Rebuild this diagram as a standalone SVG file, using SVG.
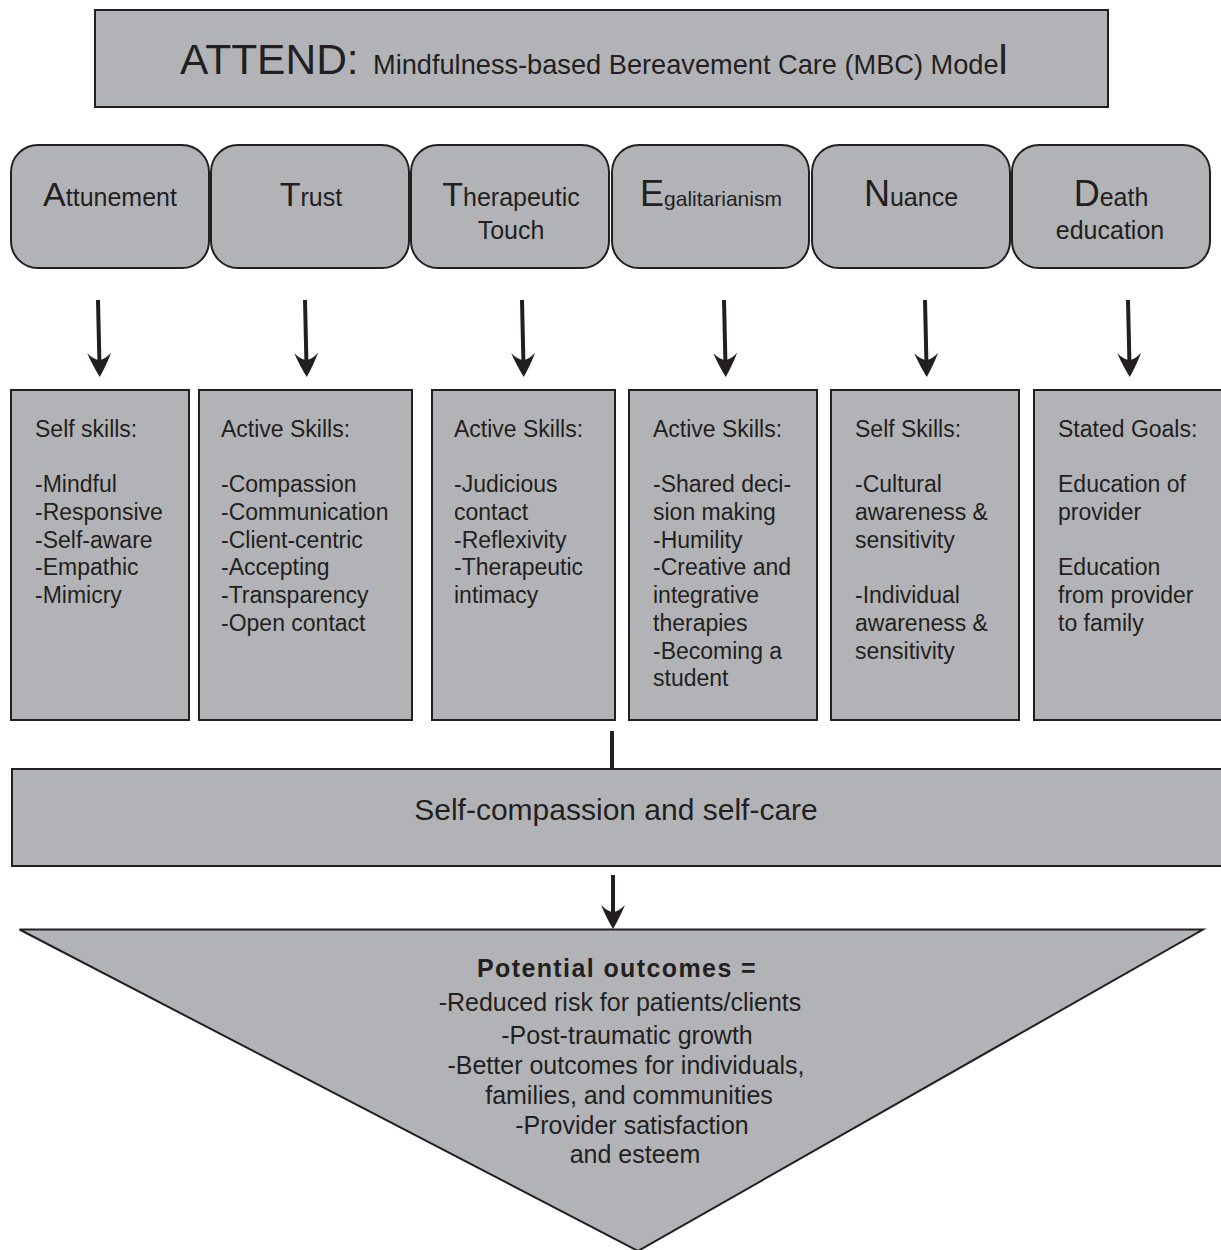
<svg xmlns="http://www.w3.org/2000/svg" width="1221" height="1250" viewBox="0 0 1221 1250">
<style>
.box{fill:#b2b3b6;stroke:#231f20;stroke-width:2}
text{font-family:"Liberation Sans",Arial,Helvetica,sans-serif;fill:#231f20}
.h{font-size:25px;text-anchor:middle}
.big{font-size:34px}
.big2{font-size:36px}
.sk{font-size:23px}
.out{font-size:25px;text-anchor:middle}
.conn{stroke:#231f20;stroke-width:4;fill:none}
</style>
<defs>
<marker id="ah" markerUnits="userSpaceOnUse" viewBox="-26 -14 28 28" markerWidth="28" markerHeight="28" refX="-11" refY="0" orient="auto">
<path d="M0,0 Q-10,-6 -24,-12 Q-17,-5 -17,0 Q-17,5 -24,12 Q-10,6 0,0 Z" fill="#231f20"/>
</marker>
</defs>
<rect width="1221" height="1250" fill="#ffffff"/>

<g id="title">
<rect class="box" x="95" y="10" width="1013" height="97"/>
<text x="180" y="74"><tspan font-size="42.5">ATTEND:</tspan><tspan x="373" font-size="27.2">Mindfulness-based Bereavement Care (MBC) Mode</tspan><tspan font-size="41">l</tspan></text>
</g>

<g id="attunement">
<rect class="box" x="11" y="145" width="198" height="123" rx="27"/>
<text class="h" x="110" y="206"><tspan class="big">A</tspan>ttunement</text>
</g>
<g id="trust">
<rect class="box" x="211" y="145" width="198" height="123" rx="27"/>
<text class="h" x="311" y="206"><tspan class="big">T</tspan>rust</text>
</g>
<g id="therapeutic-touch">
<rect class="box" x="411" y="145" width="198" height="123" rx="27"/>
<text class="h" x="511" y="206"><tspan class="big">T</tspan>herapeutic</text>
<text class="h" x="511" y="239">Touch</text>
</g>
<g id="egalitarianism">
<rect class="box" x="612" y="145" width="197" height="123" rx="27"/>
<text class="h" x="711" y="206"><tspan class="big2">E</tspan><tspan font-size="21">galitarianism</tspan></text>
</g>
<g id="nuance">
<rect class="box" x="812" y="145" width="198" height="123" rx="27"/>
<text class="h" x="911" y="206"><tspan class="big2">N</tspan>uance</text>
</g>
<g id="death-education">
<rect class="box" x="1012" y="145" width="198" height="123" rx="27"/>
<text class="h" x="1111" y="206"><tspan class="big2">D</tspan>eath</text>
<text class="h" x="1110" y="239">education</text>
</g>

<g id="skills-attunement">
<rect class="box" x="11" y="390" width="178" height="330"/>
<text class="sk" x="35" y="437">Self skills:</text>
<text class="sk" x="35" y="492">-Mindful</text>
<text class="sk" x="35" y="520">-Responsive</text>
<text class="sk" x="35" y="548">-Self-aware</text>
<text class="sk" x="35" y="575">-Empathic</text>
<text class="sk" x="35" y="603">-Mimicry</text>
</g>
<g id="skills-trust">
<rect class="box" x="199" y="390" width="213" height="330"/>
<text class="sk" x="221" y="437">Active Skills:</text>
<text class="sk" x="221" y="492">-Compassion</text>
<text class="sk" x="221" y="520">-Communication</text>
<text class="sk" x="221" y="548">-Client-centric</text>
<text class="sk" x="221" y="575">-Accepting</text>
<text class="sk" x="221" y="603">-Transparency</text>
<text class="sk" x="221" y="631">-Open contact</text>
</g>
<g id="skills-touch">
<rect class="box" x="432" y="390" width="183" height="330"/>
<text class="sk" x="454" y="437">Active Skills:</text>
<text class="sk" x="454" y="492">-Judicious</text>
<text class="sk" x="454" y="520">contact</text>
<text class="sk" x="454" y="548">-Reflexivity</text>
<text class="sk" x="454" y="575">-Therapeutic</text>
<text class="sk" x="454" y="603">intimacy</text>
</g>
<g id="skills-egalitarianism">
<rect class="box" x="629" y="390" width="188" height="330"/>
<text class="sk" x="653" y="437">Active Skills:</text>
<text class="sk" x="653" y="492">-Shared deci-</text>
<text class="sk" x="653" y="520">sion making</text>
<text class="sk" x="653" y="548">-Humility</text>
<text class="sk" x="653" y="575">-Creative and</text>
<text class="sk" x="653" y="603">integrative</text>
<text class="sk" x="653" y="631">therapies</text>
<text class="sk" x="653" y="659">-Becoming a</text>
<text class="sk" x="653" y="686">student</text>
</g>
<g id="skills-nuance">
<rect class="box" x="831" y="390" width="188" height="330"/>
<text class="sk" x="855" y="437">Self Skills:</text>
<text class="sk" x="855" y="492">-Cultural</text>
<text class="sk" x="855" y="520">awareness &amp;</text>
<text class="sk" x="855" y="548">sensitivity</text>
<text class="sk" x="855" y="603">-Individual</text>
<text class="sk" x="855" y="631">awareness &amp;</text>
<text class="sk" x="855" y="659">sensitivity</text>
</g>
<g id="skills-death">
<rect class="box" x="1034" y="390" width="200" height="330"/>
<text class="sk" x="1058" y="437">Stated Goals:</text>
<text class="sk" x="1058" y="492">Education of</text>
<text class="sk" x="1058" y="520">provider</text>
<text class="sk" x="1058" y="575">Education</text>
<text class="sk" x="1058" y="603">from provider</text>
<text class="sk" x="1058" y="631">to family</text>
</g>

<g id="self-compassion">
<rect class="box" x="12" y="769" width="1215" height="97"/>
<text x="616" y="820" font-size="30" text-anchor="middle">Self-compassion and self-care</text>
</g>

<g id="outcomes">
<polygon class="box" points="19.5,929.5 1203,929.5 638,1251"/>
<text x="617" y="977" font-size="25" font-weight="bold" text-anchor="middle" letter-spacing="1.4">Potential outcomes =</text>
<text class="out" x="620" y="1011">-Reduced risk for patients/clients</text>
<text class="out" x="627" y="1044">-Post-traumatic growth</text>
<text class="out" x="626" y="1074">-Better outcomes for individuals,</text>
<text class="out" x="629" y="1104">families, and communities</text>
<text class="out" x="632" y="1134">-Provider satisfaction</text>
<text class="out" x="635" y="1163">and esteem</text>
</g>

<g id="connectors">
<line class="conn" x1="98" y1="300" x2="99.5" y2="366" marker-end="url(#ah)"/>
<line class="conn" x1="305" y1="300" x2="306.5" y2="366" marker-end="url(#ah)"/>
<line class="conn" x1="522" y1="300" x2="523.5" y2="366" marker-end="url(#ah)"/>
<line class="conn" x1="724" y1="300" x2="725.5" y2="366" marker-end="url(#ah)"/>
<line class="conn" x1="925" y1="300" x2="926.5" y2="366" marker-end="url(#ah)"/>
<line class="conn" x1="1128" y1="300" x2="1129.5" y2="366" marker-end="url(#ah)"/>
<line class="conn" x1="612" y1="731" x2="612" y2="769"/>
<line class="conn" x1="613" y1="875" x2="613" y2="918" marker-end="url(#ah)"/>
</g>
</svg>
